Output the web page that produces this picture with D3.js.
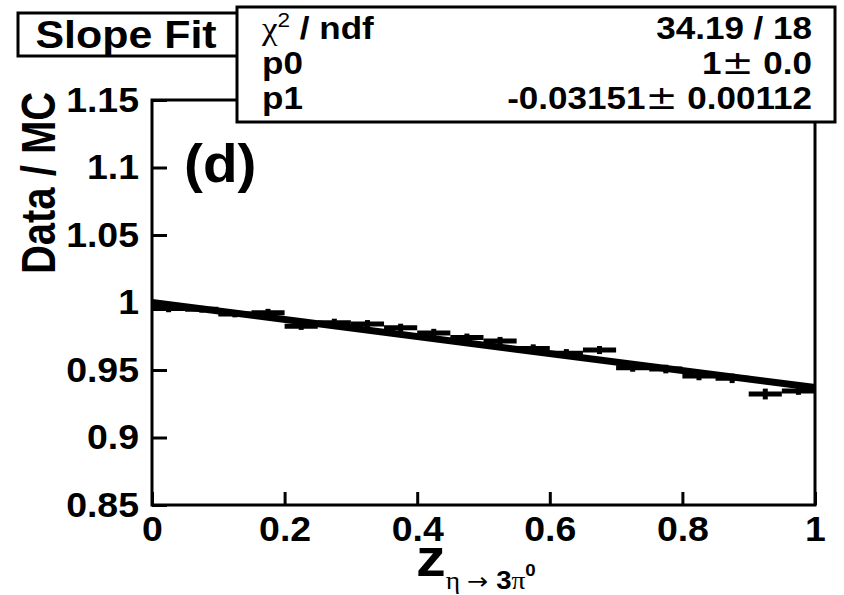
<!DOCTYPE html>
<html>
<head>
<meta charset="utf-8">
<script src="https://cdn.jsdelivr.net/npm/d3@7"></script>
<style>
  html, body { margin: 0; padding: 0; background: #fff; }
  svg text { font-family: "Liberation Sans", Arial, Helvetica, sans-serif; font-weight: bold; fill: #000; }
</style>
</head>
<body>
<div id="chart"></div>
<script>
// bins of z (width 0.05)
const binLo = [0, 0.05, 0.1, 0.15, 0.2, 0.25, 0.3, 0.35, 0.4, 0.45, 0.5, 0.55, 0.6, 0.65, 0.7, 0.75, 0.8, 0.85, 0.9, 0.95];
const binHi = [0.05, 0.1, 0.15, 0.2, 0.25, 0.3, 0.35, 0.4, 0.45, 0.5, 0.55, 0.6, 0.65, 0.7, 0.75, 0.8, 0.85, 0.9, 0.95, 1];
const ratio = [0.9955, 0.995, 0.9915, 0.9925, 0.9825, 0.985, 0.984, 0.9813, 0.9775, 0.974, 0.9715, 0.966, 0.9625, 0.9648, 0.9517, 0.9507, 0.9456, 0.9438, 0.9322, 0.9344];
const ratioErr = [0.0027, 0.0025, 0.0025, 0.0028, 0.0028, 0.003, 0.003, 0.003, 0.003, 0.003, 0.003, 0.003, 0.003, 0.003, 0.003, 0.0032, 0.0032, 0.0035, 0.004, 0.0028];
// fitted straight line, ends
const fitX = [0, 1];
const fitY = [1.0, 0.937];
const xTicks = [0, 0.2, 0.4, 0.6, 0.8, 1];
const yTicks = [0.85, 0.9, 0.95, 1, 1.05, 1.1, 1.15];
const statLabels = ["χ2 / ndf", "p0", "p1"];
const statValues = ["34.19 / 18", "1± 0.0", "-0.03151± 0.00112"];

const width = 844, height = 595;
const margin = { left: 152, right: 29, top: 100, bottom: 90 };

const svg = d3.select("#chart").append("svg")
  .attr("width", width).attr("height", height);

const xScale = d3.scaleLinear().domain([0, 1]).range([margin.left, width - margin.right]);
const yScale = d3.scaleLinear().domain([0.85, 1.15]).range([height - margin.bottom, margin.top]);

// axes (ticks inside the frame)
const yAxis = svg.append("g")
  .attr("transform", `translate(${margin.left},0)`)
  .call(d3.axisLeft(yScale).tickValues(yTicks).tickSize(-15).tickPadding(14)
    .tickFormat(d => d3.format("")(+d.toFixed(2))));
const xAxis = svg.append("g")
  .attr("transform", `translate(0,${height - margin.bottom})`)
  .call(d3.axisBottom(xScale).tickValues(xTicks).tickSize(-13).tickPadding(11)
    .tickFormat(d => d3.format("")(+d.toFixed(1))));

[yAxis, xAxis].forEach(ax => {
  ax.select(".domain").remove();
  ax.selectAll(".tick line").attr("stroke", "#000").attr("stroke-width", 3);
  ax.selectAll(".tick text").style("font-size", "35px").attr("fill", "#000");
});
yAxis.selectAll(".tick text").attr("x", null)
  .attr("transform", "translate(-13,0) scale(1.07,1)");
xAxis.selectAll(".tick text").attr("transform", "scale(1.07,1)");

// frame
svg.append("rect")
  .attr("x", xScale(0)).attr("y", yScale(1.15))
  .attr("width", xScale(1) - xScale(0)).attr("height", yScale(0.85) - yScale(1.15))
  .attr("fill", "none").attr("stroke", "#000").attr("stroke-width", 3);

// data points with error bars
const pts = svg.append("g");
ratio.forEach((v, i) => {
  pts.append("line")
    .attr("x1", xScale(binLo[i])).attr("x2", xScale(binHi[i]))
    .attr("y1", yScale(v)).attr("y2", yScale(v))
    .attr("stroke", "#000").attr("stroke-width", 5);
  const xc = xScale((binLo[i] + binHi[i]) / 2);
  pts.append("line")
    .attr("x1", xc).attr("x2", xc)
    .attr("y1", yScale(v - ratioErr[i])).attr("y2", yScale(v + ratioErr[i]))
    .attr("stroke", "#000").attr("stroke-width", 5);
});

// fit line
svg.append("path")
  .datum(fitX.map((x, i) => [x, fitY[i]]))
  .attr("d", d3.line().x(d => xScale(d[0])).y(d => yScale(d[1])))
  .attr("fill", "none").attr("stroke", "#000").attr("stroke-width", 7);

// (d) label
svg.append("text")
  .attr("transform", "translate(184,182) scale(1.07,1)")
  .style("font-size", "53px").text("(d)");

// y axis title
svg.append("text")
  .attr("transform", "translate(55,183) scale(1.2,1) rotate(-90)")
  .attr("text-anchor", "middle")
  .style("font-size", "40px").text("Data / MC");

// x axis title
const xt = svg.append("text")
  .attr("transform", "translate(416,576) scale(1.1,1)");
xt.append("tspan").style("font-size", "54px").text("z");
xt.append("tspan").attr("dy", 13).style("font-size", "25px")
  .style("font-family", "'Liberation Serif', serif").style("font-weight", "normal").text("η ");
xt.append("tspan").style("font-size", "23px")
  .style("font-family", "'DejaVu Sans', sans-serif").style("font-weight", "normal").text("→ ");
xt.append("tspan").style("font-size", "25px").text("3");
xt.append("tspan").style("font-size", "25px")
  .style("font-family", "'Liberation Serif', serif").style("font-weight", "normal").text("π");
xt.append("tspan").attr("dy", -13).style("font-size", "17px").text("0");

// title box
svg.append("rect")
  .attr("x", 18).attr("y", 13).attr("width", 220).attr("height", 43)
  .attr("fill", "#fff").attr("stroke", "#000").attr("stroke-width", 3);
svg.append("text")
  .attr("transform", "translate(126,48) scale(1.13,1)")
  .attr("text-anchor", "middle")
  .style("font-size", "38px").text("Slope Fit");

// stats box
svg.append("rect")
  .attr("x", 237).attr("y", 7).attr("width", 598).attr("height", 115)
  .attr("fill", "#fff").attr("stroke", "#000").attr("stroke-width", 3);
const rowY = [39, 74, 109];
statLabels.forEach((lab, i) => {
  const t = svg.append("text")
    .attr("transform", `translate(262,${rowY[i]}) scale(1.13,1)`)
    .style("font-size", "31px");
  if (i === 0) {
    t.append("tspan").style("font-family", "'Liberation Serif', serif").style("font-weight", "normal").text("χ");
    t.append("tspan").attr("dy", -12).style("font-size", "20px").style("font-weight", "normal").text("2");
    t.append("tspan").attr("dy", 12).text(" / ndf");
  } else {
    t.text(lab);
  }
});
statValues.forEach((val, i) => {
  const t = svg.append("text")
    .attr("transform", `translate(812,${rowY[i]}) scale(1.13,1)`)
    .attr("text-anchor", "end")
    .style("font-size", "31px");
  const parts = val.split("±");
  if (parts.length === 2) {
    t.append("tspan").text(parts[0]);
    t.append("tspan").style("font-weight", "normal").style("font-size", "34px")
      .style("font-family", "'DejaVu Sans', sans-serif").text("±");
    t.append("tspan").text(parts[1]);
  } else {
    t.text(val);
  }
});
</script>
</body>
</html>
